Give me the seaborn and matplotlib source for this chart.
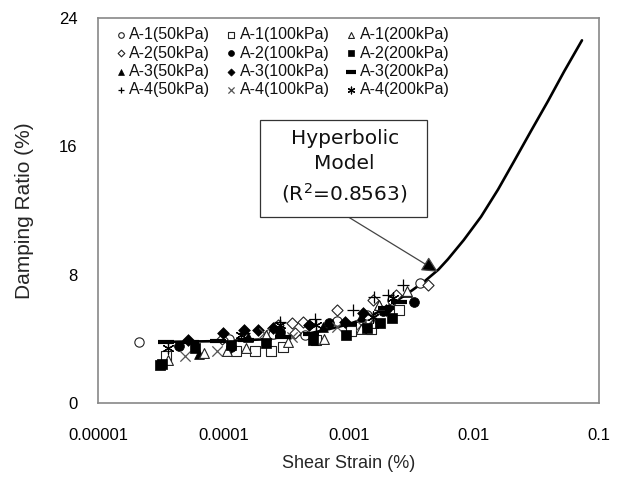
import matplotlib
matplotlib.use("Agg")
import matplotlib.pyplot as plt
import seaborn as sns
import pandas as pd
import numpy as np
from matplotlib.ticker import FixedLocator, LogLocator, NullFormatter, FixedFormatter
from matplotlib.patches import Rectangle

sns.set_theme(style="white")
plt.rcParams['font.family'] = ['Liberation Sans', 'DejaVu Sans']

# ---------------- data ----------------
a1_50_x = [2.1e-5, 1.1e-4, 2.5e-4, 4.5e-4, 8e-4, 1.4e-3, 2.2e-3, 3.7e-3]
a1_50_y = [3.8, 4.0, 4.3, 4.2, 5.1, 5.5, 6.4, 7.5]
a1_100_x = [3.5e-5, 1.27e-4, 1.8e-4, 2.4e-4, 3.0e-4, 5.5e-4, 1.04e-3, 1.5e-3, 2.5e-3]
a1_100_y = [2.9, 3.2, 3.25, 3.2, 3.5, 3.9, 4.5, 4.6, 5.8]
a1_200_x = [3.6e-5, 7.0e-5, 1.06e-4, 1.5e-4, 2.2e-4, 3.3e-4, 6.4e-4, 1.25e-3, 1.55e-3, 1.75e-3, 2.9e-3]
a1_200_y = [2.7, 3.1, 3.25, 3.4, 4.2, 3.8, 4.0, 4.6, 5.0, 6.1, 7.0]
a2_50_x = [9.8e-5, 2.75e-4, 3.5e-4, 3.7e-4, 4.3e-4, 8.0e-4, 1.55e-3, 2.4e-3, 4.3e-3]
a2_50_y = [4.0, 4.85, 5.0, 4.35, 5.05, 5.8, 6.4, 6.7, 7.35]
a2_100_x = [4.4e-5, 1.14e-4, 2.85e-4, 6.9e-4, 1.87e-3, 3.3e-3]
a2_100_y = [3.55, 3.5, 4.4, 5.0, 5.7, 6.3]
a2_200_x = [3.1e-5, 3.2e-5, 5.9e-5, 1.14e-4, 2.2e-4, 5.2e-4, 9.6e-4, 1.4e-3, 1.77e-3, 2.2e-3]
a2_200_y = [2.35, 2.45, 3.4, 3.6, 3.7, 3.9, 4.2, 4.65, 5.0, 5.3]
a3_50_x = [6.4e-5, 1.58e-4, 2.85e-4, 6.2e-4, 1.25e-3, 1.75e-3, 2.9e-3]
a3_50_y = [3.05, 4.1, 4.55, 4.75, 5.35, 6.1, 6.9]
a3_100_x = [5.2e-5, 1.0e-4, 1.47e-4, 1.9e-4, 2.5e-4, 4.8e-4, 9.3e-4, 1.3e-3, 2.0e-3]
a3_100_y = [3.9, 4.35, 4.55, 4.55, 4.65, 4.85, 5.05, 5.6, 5.8]
a3_200_x = [3.5e-5, 5.5e-5, 9e-5, 1.5e-4, 3e-4, 5e-4, 1e-3, 2e-3, 2.5e-3]
a3_200_y = [3.8, 3.8, 3.85, 3.9, 4.1, 4.3, 4.9, 5.9, 6.3]
a4_50_x = [1.47e-4, 2.85e-4, 5.4e-4, 1.08e-3, 1.6e-3, 2.05e-3, 2.7e-3]
a4_50_y = [4.35, 5.05, 5.2, 5.8, 6.6, 6.75, 7.35]
a4_100_x = [4.9e-5, 8.8e-5, 2.1e-4, 3.5e-4, 8e-4, 1.25e-3, 1.6e-3]
a4_100_y = [2.9, 3.2, 4.35, 4.1, 4.75, 4.85, 5.3]
a4_200_x = [3.6e-5, 1.37e-4, 2.85e-4, 5.5e-4, 1.55e-3, 2.25e-3]
a4_200_y = [3.4, 4.25, 4.85, 4.85, 5.35, 6.55]

model_x = [3.4e-5, 1e-4, 2e-4, 3e-4, 5e-4, 7e-4, 1e-3, 1.5e-3, 2e-3, 3e-3, 4e-3,
           5.2e-3, 6.2e-3, 8.3e-3, 0.0114, 0.0156, 0.0209, 0.0286, 0.039, 0.0525, 0.073]
model_y = [3.8, 3.85, 3.95, 4.1, 4.35, 4.6, 4.9, 5.4, 5.95, 6.85, 7.55,
           8.3, 8.95, 10.15, 11.6, 13.3, 15.05, 16.95, 18.8, 20.65, 22.6]

x_ticks = [1e-5, 1e-4, 1e-3, 1e-2, 1e-1]
x_tick_labels = ["0.00001", "0.0001", "0.001", "0.01", "0.1"]
y_ticks = [0, 8, 16, 24]

# (label, x, y, marker, filled, size)
series = [
    ("A-1(50kPa)", a1_50_x, a1_50_y, "o", False, 45),
    ("A-2(50kPa)", a2_50_x, a2_50_y, "D", False, 32),
    ("A-3(50kPa)", a3_50_x, a3_50_y, "^", True, 50),
    ("A-4(50kPa)", a4_50_x, a4_50_y, "+", True, 65),
    ("A-1(100kPa)", a1_100_x, a1_100_y, "s", False, 58),
    ("A-2(100kPa)", a2_100_x, a2_100_y, "o", True, 50),
    ("A-3(100kPa)", a3_100_x, a3_100_y, "D", True, 36),
    ("A-4(100kPa)", a4_100_x, a4_100_y, "x", True, 55),
    ("A-1(200kPa)", a1_200_x, a1_200_y, "^", False, 50),
    ("A-2(200kPa)", a2_200_x, a2_200_y, "s", True, 58),
    ("A-3(200kPa)", a3_200_x, a3_200_y, "_", True, 130),
    ("A-4(200kPa)", a4_200_x, a4_200_y, (6, 2, 0), True, 65),
]

fig = plt.figure(figsize=(6.26, 4.83), dpi=100)
ax = fig.add_axes([0.157, 0.166, 0.800, 0.797])

sns.lineplot(x=model_x, y=model_y, ax=ax, color="black", lw=1.9, zorder=3,
             estimator=None, sort=False)

for label, xs, ys, m, filled, s in series:
    df = pd.DataFrame({"x": xs, "y": ys})
    if m in ("+", "x", "_") or isinstance(m, tuple):
        col = "#555555" if m == "x" else "black"
        lw = 3.0 if m == "_" else 0.9
        sns.scatterplot(data=df, x="x", y="y", ax=ax, marker=m, s=s, color=col,
                        linewidth=lw, label=label, zorder=4)
    elif filled:
        sns.scatterplot(data=df, x="x", y="y", ax=ax, marker=m, s=s,
                        facecolor="black", edgecolor="black", linewidth=0.5,
                        label=label, zorder=4)
    else:
        sns.scatterplot(data=df, x="x", y="y", ax=ax, marker=m, s=s,
                        facecolor="white", edgecolor="#222222", linewidth=0.8,
                        label=label, zorder=4)

ax.set_xscale("log")
ax.set_xlim(1e-5, 1e-1)
ax.set_ylim(0, 24)
ax.xaxis.set_major_locator(FixedLocator(x_ticks))
ax.xaxis.set_major_formatter(FixedFormatter(x_tick_labels))
ax.xaxis.set_minor_locator(LogLocator(base=10, subs=np.arange(2, 10)))
ax.xaxis.set_minor_formatter(NullFormatter())
ax.yaxis.set_major_locator(FixedLocator(y_ticks))
ax.yaxis.set_minor_locator(FixedLocator([4, 12, 20]))

ax.tick_params(which="both", direction="in", color="#777777", labelsize=12,
               labelcolor="black")
ax.tick_params(which="major", length=5, width=1)
ax.tick_params(which="minor", length=3, width=1)
ax.tick_params(axis="x", pad=18)
ax.tick_params(axis="y", pad=15)
for sp in ax.spines.values():
    sp.set_color("#888888")
    sp.set_linewidth(1.2)

ax.set_xlabel("Shear Strain (%)", fontsize=13, labelpad=9)
ax.set_ylabel("Damping Ratio (%)", fontsize=15, labelpad=18)

# annotation box
ax.add_patch(Rectangle((0.323, 0.483), 0.334, 0.252, transform=ax.transAxes,
                       facecolor="white", edgecolor="#333333", lw=0.9, zorder=6))
ax.text(0.492, 0.612, "Hyperbolic\nModel\n(R$^2$=0.8563)", transform=ax.transAxes,
        ha="center", va="center", fontsize=14.5, linespacing=1.4,
        family=["DejaVu Sans"], color="#111111", zorder=7)
ax.annotate("", xy=(5.15e-3, 8.17), xycoords="data",
            xytext=(0.499, 0.483), textcoords="axes fraction",
            arrowprops=dict(arrowstyle="-|>", edgecolor="#444444", facecolor="black",
                            lw=0.9, mutation_scale=24, shrinkA=0, shrinkB=0),
            zorder=5)

leg = ax.legend(ncol=3, loc="upper left", bbox_to_anchor=(0.035, 0.975),
                frameon=False, fontsize=11.5, markerscale=0.6, handlelength=0.6,
                handletextpad=0.25, columnspacing=1.0, labelspacing=0.2,
                borderpad=0, borderaxespad=0)
for t in leg.get_texts():
    t.set_color("#111111")

fig.savefig("out.png", dpi=100)
